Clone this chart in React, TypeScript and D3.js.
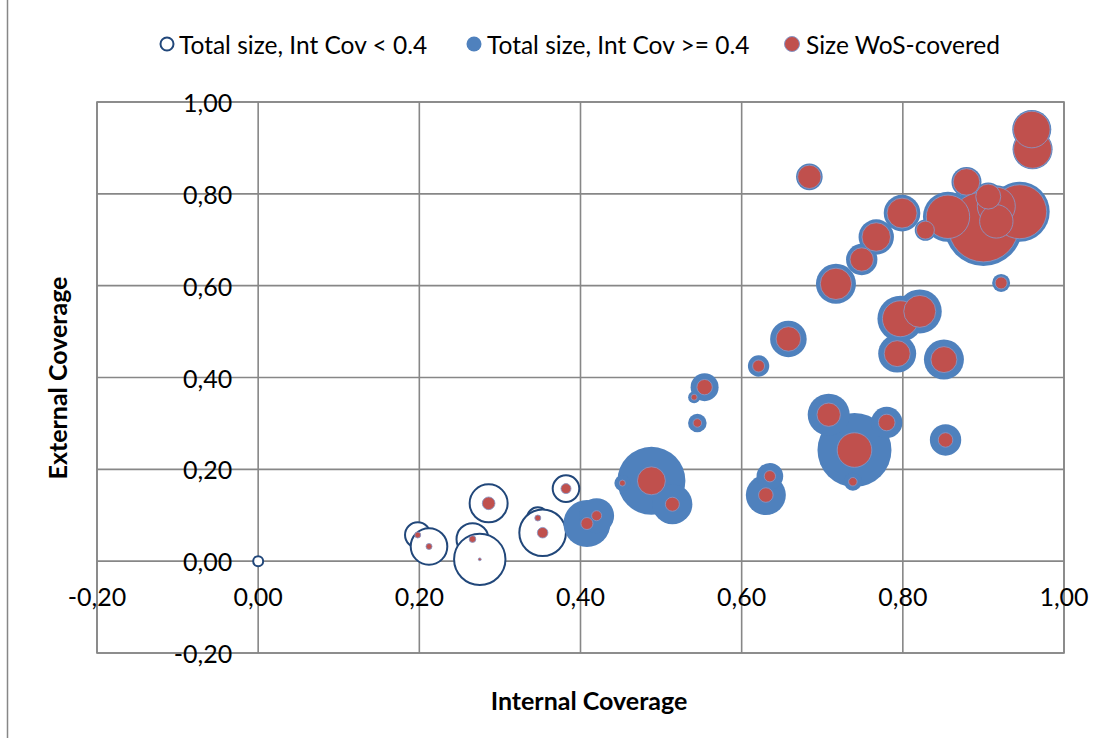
import React from "react";
import * as d3 from "d3";

// Internal coverage (x), external coverage (y), total size and WoS-covered size per entity
const internalCoverage = [
  0.0, 0.198, 0.212, 0.266, 0.275, 0.286, 0.347, 0.353, 0.382,
  0.408, 0.42, 0.488, 0.452, 0.514, 0.541, 0.545, 0.554, 0.621, 0.63, 0.635,
  0.658, 0.684, 0.708, 0.717, 0.738, 0.74, 0.749, 0.767, 0.78, 0.793, 0.797,
  0.799, 0.821, 0.828, 0.851, 0.853, 0.856, 0.879, 0.9, 0.906, 0.916, 0.916,
  0.922, 0.945, 0.96, 0.961,
];
const externalCoverage = [
  0.0, 0.057, 0.032, 0.048, 0.004, 0.126, 0.094, 0.062, 0.158,
  0.082, 0.099, 0.175, 0.17, 0.124, 0.357, 0.301, 0.379, 0.425, 0.144, 0.185,
  0.484, 0.837, 0.319, 0.604, 0.173, 0.242, 0.657, 0.706, 0.302, 0.452, 0.528,
  0.758, 0.544, 0.721, 0.439, 0.264, 0.75, 0.826, 0.728, 0.794, 0.773, 0.74,
  0.606, 0.761, 0.94, 0.897,
];
const totalSize = [
  25, 161, 335, 256, 660, 361, 114, 543, 177,
  552, 306, 1156, 64, 400, 36, 86, 196, 114, 400, 177,
  335, 177, 441, 400, 81, 1369, 246, 313, 246, 361, 529,
  335, 484, 114, 400, 246, 625, 225, 1521, 196, 441, 324,
  81, 900, 380, 400,
];
const wosSize = [
  0, 9, 9, 11, 2, 40, 9, 28, 25,
  36, 25, 196, 9, 49, 9, 18, 59, 36, 53, 32,
  151, 137, 137, 246, 18, 299, 137, 204, 69, 169, 324,
  225, 256, 81, 169, 53, 471, 177, 1225, 156, 361, 279,
  36, 729, 335, 361,
];

const xTicks = [-0.2, 0, 0.2, 0.4, 0.6, 0.8, 1.0];
const yTicks = [-0.2, 0, 0.2, 0.4, 0.6, 0.8, 1.0];
const legendLabels = [
  "Total size, Int Cov < 0.4",
  "Total size, Int Cov >= 0.4",
  "Size WoS-covered",
];
const xTitle = "Internal Coverage";
const yTitle = "External Coverage";
const threshold = 0.4;

const W = 1104;
const H = 738;
const FONT = "Lato, 'Liberation Sans', sans-serif";
const GRID = "#878787";
const BLUE = "#4F81BD";
const NAVY = "#21477A";
const RED = "#C0504D";
const RED_STROKE = "#8796C6";

const fmt = (v: number) =>
  (v < -1e-9 ? "-" : "") + Math.abs(v).toFixed(2).replace(".", ",");

export default function App() {
  const x = d3.scaleLinear().domain([-0.2, 1]).range([97, 1064]);
  const y = d3.scaleLinear().domain([-0.2, 1]).range([653, 102]);
  const r = d3.scaleSqrt().domain([0, 1600]).range([0, 40]);

  const rows = internalCoverage.map((ic, i) => ({
    ic,
    ec: externalCoverage[i],
    total: totalSize[i],
    wos: wosSize[i],
  }));
  const low = rows.filter((d) => d.ic < threshold).sort((a, b) => a.total - b.total);
  const high = rows.filter((d) => d.ic >= threshold).sort((a, b) => b.total - a.total);
  const wos = rows.filter((d) => d.wos > 0).sort((a, b) => b.wos - a.wos);

  const [x0, x1] = x.range();
  const [yb, yt] = y.range();

  const legendY = 44;
  const legendItems = [
    { mx: 167, tx: 179, label: legendLabels[0] },
    { mx: 474, tx: 487, label: legendLabels[1] },
    { mx: 792, tx: 806, label: legendLabels[2] },
  ];

  return (
    <svg
      width={W}
      height={H}
      style={{ position: "absolute", left: 0, top: 0, background: "#fff", display: "block" }}
      fontFamily={FONT}
    >
      <rect x={0} y={0} width={W} height={H} fill="#fff" />
      <line x1={7.5} x2={7.5} y1={0} y2={H} stroke={GRID} strokeWidth={1.5} />

      {/* gridlines */}
      {xTicks.map((t) => (
        <line key={"gx" + t} x1={x(t)} x2={x(t)} y1={yt} y2={yb} stroke={GRID} strokeWidth={1.6} />
      ))}
      {yTicks.map((t) => (
        <line key={"gy" + t} x1={x0} x2={x1} y1={y(t)} y2={y(t)} stroke={GRID} strokeWidth={1.6} />
      ))}
      <rect x={x0} y={yt} width={x1 - x0} height={yb - yt} fill="none" stroke={GRID} strokeWidth={1.6} />

      {/* total size, int cov < 0.4 */}
      {low.map((d, i) => (
        <circle
          key={"l" + i}
          cx={x(d.ic)}
          cy={y(d.ec)}
          r={r(d.total)}
          fill="#fff"
          stroke={NAVY}
          strokeWidth={2}
        />
      ))}
      {/* total size, int cov >= 0.4 */}
      {high.map((d, i) => (
        <circle key={"h" + i} cx={x(d.ic)} cy={y(d.ec)} r={r(d.total)} fill={BLUE} />
      ))}
      {/* WoS covered */}
      {wos.map((d, i) => (
        <circle
          key={"w" + i}
          cx={x(d.ic)}
          cy={y(d.ec)}
          r={r(d.wos)}
          fill={RED}
          stroke={RED_STROKE}
          strokeWidth={1}
          strokeOpacity={0.85}
        />
      ))}

      {/* y tick labels, next to the x=0 axis */}
      {yTicks.map((t) => (
        <text
          key={"ty" + t}
          x={x(0) - 26}
          y={y(t)}
          textAnchor="end"
          dominantBaseline="central"
          fontSize={25}
          fill="#000"
        >
          {fmt(t)}
        </text>
      ))}
      {/* x tick labels, below the y=0 axis */}
      {xTicks.map((t) => (
        <text
          key={"tx" + t}
          x={x(t)}
          y={y(0) + 35}
          textAnchor="middle"
          dominantBaseline="central"
          fontSize={25}
          fill="#000"
        >
          {fmt(t)}
        </text>
      ))}

      {/* axis titles */}
      <text
        x={589}
        y={700}
        textAnchor="middle"
        dominantBaseline="central"
        fontSize={25}
        fontWeight="bold"
        fill="#000"
      >
        {xTitle}
      </text>
      <text
        transform="translate(57,378) rotate(-90)"
        textAnchor="middle"
        dominantBaseline="central"
        fontSize={25}
        fontWeight="bold"
        fill="#000"
      >
        {yTitle}
      </text>

      {/* legend */}
      <circle cx={legendItems[0].mx} cy={legendY} r={6.5} fill="#fff" stroke={NAVY} strokeWidth={2} />
      <circle cx={legendItems[1].mx} cy={legendY} r={7.5} fill={BLUE} />
      <circle cx={legendItems[2].mx} cy={legendY} r={7.5} fill={RED} stroke={RED_STROKE} strokeWidth={1} />
      {legendItems.map((it) => (
        <text
          key={it.label}
          x={it.tx}
          y={legendY}
          dominantBaseline="central"
          fontSize={24.5}
          fill="#000"
        >
          {it.label}
        </text>
      ))}
    </svg>
  );
}
